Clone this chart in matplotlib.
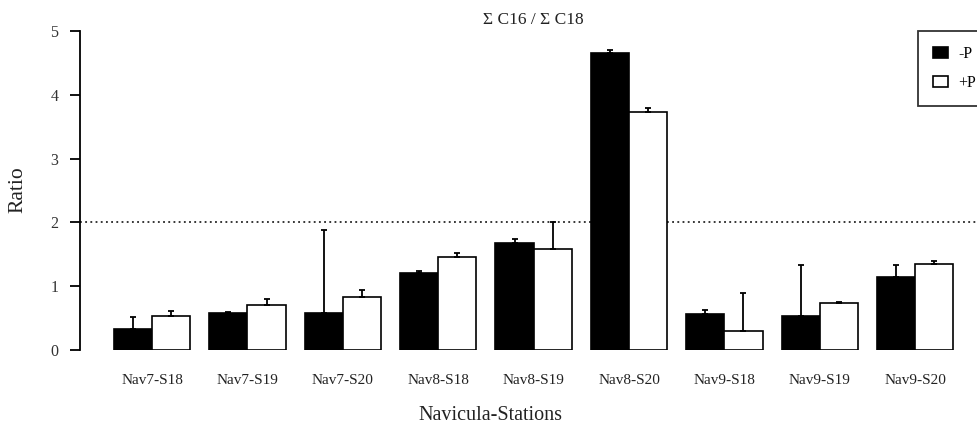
import matplotlib
matplotlib.use("Agg")
import matplotlib.pyplot as plt
import numpy as np
from matplotlib.patches import Patch

categories = ["Nav7-S18", "Nav7-S19", "Nav7-S20", "Nav8-S18", "Nav8-S19",
              "Nav8-S20", "Nav9-S18", "Nav9-S19", "Nav9-S20"]
minus_p = [0.33, 0.575, 0.575, 1.21, 1.68, 4.66, 0.57, 0.53, 1.14]
minus_p_err = [0.19, 0.015, 1.30, 0.03, 0.06, 0.04, 0.06, 0.80, 0.19]
plus_p = [0.54, 0.70, 0.83, 1.46, 1.59, 3.73, 0.30, 0.74, 1.35]
plus_p_err = [0.07, 0.10, 0.11, 0.06, 0.42, 0.07, 0.60, 0.02, 0.05]
legend_labels = ["-P", "+P"]
reference_line = 2.0

plt.rcParams['font.family'] = ['Liberation Serif', 'DejaVu Serif']

W, H = 977, 428
fig = plt.figure(figsize=(W / 100, H / 100), dpi=100)
left, right = 80, 986
y0px, y5px = 350, 31
ax = fig.add_axes([left / W, (H - y0px) / H, (right - left) / W, (y0px - y5px) / H])

x = np.arange(len(categories))
bw = 0.4
ekw = dict(elinewidth=1.3, capthick=1.3, ecolor='black')
ax.bar(x - bw / 2, minus_p, width=bw, color='black', edgecolor='black', linewidth=1.2,
       yerr=[np.zeros(len(x)), minus_p_err], capsize=2.5, error_kw=ekw, zorder=3)
ax.bar(x + bw / 2, plus_p, width=bw, color='white', edgecolor='black', linewidth=1.2,
       yerr=[np.zeros(len(x)), plus_p_err], capsize=2.5, error_kw=ekw, zorder=3)

ax.axhline(reference_line, color='black', linestyle=(0, (1.2, 2.2)), linewidth=1.1, zorder=2)

ax.set_ylim(0, 5)
ax.set_xlim(-0.755, 8.742)
ax.set_yticks([0, 1, 2, 3, 4, 5])
ax.set_xticks(x)
ax.set_xticklabels(categories, fontsize=11, color='#222222')
ax.tick_params(axis='x', length=0, pad=17)
ax.tick_params(axis='y', direction='out', length=7.5, width=1.3, labelsize=11.5,
               pad=8, labelcolor='#333333')
for s in ['top', 'right', 'bottom']:
    ax.spines[s].set_visible(False)
ax.spines['left'].set_linewidth(1.3)

fig.text(533 / W, 1 - 20 / H, "Σ C16 / Σ C18", ha='center', va='center', fontsize=12.5, color='#222222')
fig.text(490 / W, 1 - 416 / H, "Navicula-Stations", ha='center', va='center', fontsize=14.5, color='#222222')
fig.text(18 / W, 1 - 190 / H, "Ratio", ha='center', va='center', rotation=90, fontsize=15.5, color='#222222')

handles = [Patch(facecolor='black', edgecolor='black', linewidth=1.2),
           Patch(facecolor='white', edgecolor='black', linewidth=1.2)]
leg = fig.legend(handles, legend_labels, loc='upper left',
                 bbox_to_anchor=(918 / W, 1 - 31 / H), frameon=True, fancybox=False,
                 fontsize=11.5, handlelength=0.95, handleheight=0.75, handletextpad=0.6,
                 labelspacing=0.8, borderpad=0.95, borderaxespad=0)
leg.get_frame().set_edgecolor('black')
leg.get_frame().set_linewidth(1.3)

fig.savefig("out.png", dpi=100)
